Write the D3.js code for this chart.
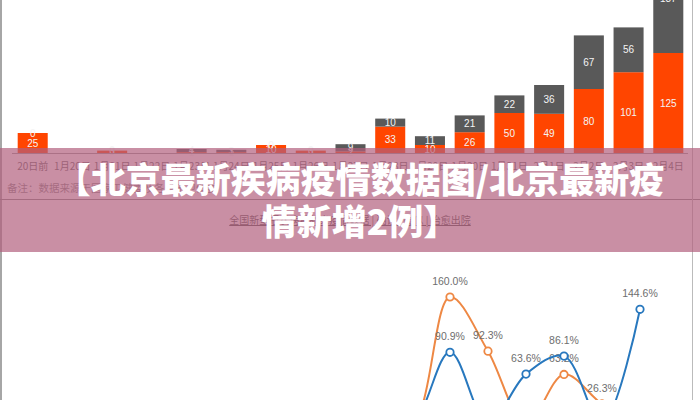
<!DOCTYPE html>
<html><head><meta charset="utf-8">
<script src="https://cdn.jsdelivr.net/npm/d3@7"></script>
<style>body{margin:0;background:#fff;} svg{display:block;}</style>
</head><body>
<svg id="c" width="700" height="400"></svg>
<script>
// ---- data ----
const categories = ["20日前","1月20日","1月21日","1月22日","1月23日","1月24日","1月25日","1月26日","1月27日","1月28日","1月29日","1月30日","1月31日","2月1日","2月2日","2月3日","2月4日"];
const orangeVals = [25,null,3,null,1,1,10,3,2,33,10,26,50,49,80,101,125];
const grayVals   = [0,null,0,null,4,3,0,0,9,10,11,21,22,36,67,56,137];
const lineDates = ["1月28日","1月29日","1月30日","1月31日","2月1日","2月2日","2月3日","2月4日"];
const rateBlue   = [2,2,90.9,2,63.6,86.1,2,144.6];
const rateOrange = [0,0,160.0,92.3,1,63.2,26.3,1];
const noteText = "备注：数据来源于国家卫健委及各省市卫健委";
const tabText = "全国新型冠状病毒肺炎疫情数据 | 确诊 | 疑似 | 治愈出院";
const titleLines = ["【北京最新疾病疫情数据图/北京最新疫","情新增2例】"];

const svg = d3.select("#c");
const CJK = "'Noto Sans CJK SC','Noto Sans',sans-serif";
const LAT = "'Liberation Sans','Noto Sans',sans-serif";

svg.append("rect").attr("width",700).attr("height",400).attr("fill","#fff");

// ---- bar chart ----
const x = d3.scaleBand().domain(categories).range([8,693]).padding(0.244);
const y = d3.scaleLinear().domain([0,100]).range([153,73]);

const bars = categories.map((c,i)=>({c, o:orangeVals[i], g:grayVals[i]})).filter(d=>d.o!==null);
const gB = svg.append("g");
bars.forEach(d=>{
  gB.append("rect").attr("x",x(d.c)).attr("width",x.bandwidth())
    .attr("y",y(d.o)).attr("height",y(0)-y(d.o)).attr("fill","#ff4500");
  gB.append("rect").attr("x",x(d.c)).attr("width",x.bandwidth())
    .attr("y",y(d.o+d.g)).attr("height",y(d.o)-y(d.o+d.g)).attr("fill","#595959");
});
bars.forEach(d=>{
  const cx = x(d.c)+x.bandwidth()/2;
  gB.append("text").attr("x",cx).attr("y",(y(0)+y(d.o))/2).attr("dy","0.35em")
    .attr("text-anchor","middle").attr("font-family",LAT).attr("font-size",10)
    .attr("fill","#f4f4f4").text(d.o);
  gB.append("text").attr("x",cx).attr("y",(y(d.o)+y(d.o+d.g))/2).attr("dy","0.35em")
    .attr("text-anchor","middle").attr("font-family",LAT).attr("font-size",10)
    .attr("fill","#f4f4f4").text(d.g);
});
// axis
const ax = svg.append("g").attr("transform","translate(0,153)")
  .call(d3.axisBottom(x).tickSize(0).tickPadding(10));
ax.select(".domain").attr("stroke","#999").attr("d","M12,0.5H688");
ax.selectAll("text").attr("font-family",CJK).attr("font-size",10).attr("fill","#666");

// note, divider, tabs
svg.append("text").attr("x",7).attr("y",192).attr("font-family",CJK).attr("font-size",10.5)
  .attr("fill","#888").text(noteText);
svg.append("line").attr("x1",0).attr("x2",700).attr("y1",199.5).attr("y2",199.5)
  .attr("stroke","#888").attr("stroke-width",1);
svg.append("text").attr("x",350).attr("y",224).attr("text-anchor","middle")
  .attr("font-family",CJK).attr("font-size",10).attr("fill","#555")
  .attr("text-decoration","underline").text(tabText);

// ---- line chart ----
const xl = d3.scalePoint().domain(lineDates).range([374,640]);
const yl = d3.scaleLinear().domain([0,160]).range([425,297]);
const line = d3.line().x((d,i)=>xl(lineDates[i])).y(d=>yl(d)).curve(d3.curveCatmullRom);
function series(vals,color){
  const g = svg.append("g");
  g.append("path").attr("d",line(vals)).attr("fill","none").attr("stroke",color).attr("stroke-width",2);
  vals.forEach((v,i)=>{
    g.append("circle").attr("cx",xl(lineDates[i])).attr("cy",yl(v)).attr("r",3.7)
      .attr("fill","#fff").attr("stroke",color).attr("stroke-width",1.8);
  });
  vals.forEach((v,i)=>{
    g.append("text").attr("x",xl(lineDates[i])).attr("y",yl(v)-12)
      .attr("text-anchor","middle").attr("font-family",LAT).attr("font-size",10.5)
      .attr("fill","#6e6e6e").text(v.toFixed(1)+"%");
  });
}
series(rateOrange,"#ee8844");
series(rateBlue,"#2878be");

// borders
svg.append("line").attr("x1",1).attr("x2",1).attr("y1",0).attr("y2",400).attr("stroke","#888").attr("stroke-width",1.5);
svg.append("line").attr("x1",692.5).attr("x2",692.5).attr("y1",0).attr("y2",400).attr("stroke","#bbb").attr("stroke-width",1);

// ---- overlay band + title ----
svg.append("rect").attr("x",0).attr("y",148).attr("width",700).attr("height",104)
  .attr("fill","rgb(178,95,126)").attr("fill-opacity",0.7);
titleLines.forEach((t,i)=>{
  svg.append("text").attr("x",360).attr("y",193+i*42).attr("text-anchor","middle")
    .attr("font-family",CJK).attr("font-weight",900).attr("font-size",35)
    .attr("fill","#fff").text(t);
});
</script>
</body></html>
